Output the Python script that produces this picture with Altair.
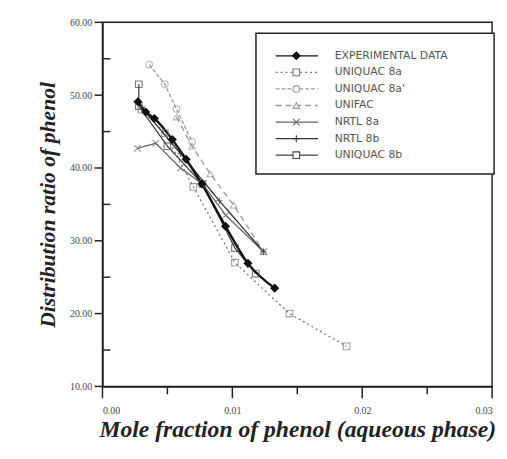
import altair as alt
import pandas as pd

series_names = ["EXPERIMENTAL DATA", "UNIQUAC 8a", "UNIQUAC 8a'", "UNIFAC", "NRTL 8a", "NRTL 8b", "UNIQUAC 8b"]

exp_x = [0.00273, 0.00333, 0.0040, 0.00538, 0.00644, 0.00765, 0.00947, 0.0112, 0.01326]
exp_y = [49.1, 47.7, 46.8, 43.9, 41.2, 37.8, 32.0, 26.9, 23.5]

uq8a_x = [0.0030, 0.0048, 0.0070, 0.0102, 0.0144, 0.0188]
uq8a_y = [48.0, 44.8, 37.4, 27.0, 20.0, 15.5]

uq8a2_x = [0.0036, 0.0048, 0.0057, 0.0069]
uq8a2_y = [54.2, 51.5, 48.1, 43.6]

unifac_x = [0.0057, 0.0069, 0.0083, 0.0101, 0.0124]
unifac_y = [47.0, 43.0, 39.2, 34.9, 28.5]

nrtl8a_x = [0.0027, 0.0041, 0.0060, 0.0077, 0.0095, 0.0124]
nrtl8a_y = [42.7, 43.4, 40.0, 37.8, 33.5, 28.5]

nrtl8b_x = [0.0033, 0.0060, 0.0090, 0.0124]
nrtl8b_y = [47.7, 42.0, 35.5, 28.5]

uq8b_x = [0.0028, 0.0028, 0.0050, 0.0077, 0.0102, 0.0118]
uq8b_y = [51.5, 48.5, 43.0, 37.8, 29.0, 25.5]

x_major = [0.0, 0.01, 0.02, 0.03]
x_minor = [0.005, 0.015, 0.025]
y_major = [10, 20, 30, 40, 50, 60]
y_minor = [15, 25, 35, 45, 55]

all_x = [exp_x, uq8a_x, uq8a2_x, unifac_x, nrtl8a_x, nrtl8b_x, uq8b_x]
all_y = [exp_y, uq8a_y, uq8a2_y, unifac_y, nrtl8a_y, nrtl8b_y, uq8b_y]

rows = []
for name, xs_, ys_ in zip(series_names, all_x, all_y):
    for i, (xv, yv) in enumerate(zip(xs_, ys_)):
        rows.append({"series": name, "x": xv, "y": yv, "order": i})
df = pd.DataFrame(rows)

leg_df = pd.DataFrame({"series": series_names, "idx": list(range(len(series_names)))})

tick_rows = ([{"kind": "xmaj", "v": v} for v in x_major] + [{"kind": "xmin", "v": v} for v in x_minor]
             + [{"kind": "ymaj", "v": v} for v in y_major] + [{"kind": "ymin", "v": v} for v in y_minor])
ticks_df = pd.DataFrame(tick_rows)

shapes = ["diamond", "square", "circle", "triangle-up",
          "M-1,-1L1,1M-1,1L1,-1", "M-1,0L1,0M0,-1L0,1", "square"]
colors = ["#111111", "#777777", "#9a9a9a", "#999999", "#666666", "#333333", "#444444"]
dashes = [[1, 0], [2, 3], [4, 2], [6, 4], [1, 0], [1, 0], [1, 0]]

color_s = alt.Scale(domain=series_names, range=colors)
shape_s = alt.Scale(domain=series_names, range=shapes)
dash_s = alt.Scale(domain=series_names, range=dashes)

xs = alt.Scale(domain=[0, 0.03], nice=False)
ys = alt.Scale(domain=[10, 60], nice=False)

x_axis = alt.Axis(
    title="Mole fraction of phenol (aqueous phase)",
    values=x_major, format=".2f", ticks=False,
    labelPadding=20, labelFont="Liberation Serif", labelFontSize=10, labelColor="#444",
    titleFont="Liberation Serif", titleFontSize=24, titleFontStyle="italic", titleFontWeight="bold",
    titleColor="#222", titlePadding=2, domain=True, domainColor="#222", domainWidth=1.5, grid=False,
)
y_axis = alt.Axis(
    title="Distribution ratio of phenol",
    values=y_major, format=".2f", ticks=False,
    labelPadding=11, labelFont="Liberation Serif", labelFontSize=10, labelColor="#444",
    titleFont="Liberation Serif", titleFontSize=22, titleFontStyle="italic", titleFontWeight="bold",
    titleColor="#222", titlePadding=10, domain=True, domainColor="#222", domainWidth=1.5, grid=False,
)

base = alt.Chart(df)
X = alt.X("x:Q", scale=xs, axis=x_axis)
Y = alt.Y("y:Q", scale=ys, axis=y_axis)

lines_other = base.transform_filter(alt.datum.series != "EXPERIMENTAL DATA").mark_line(strokeWidth=1.3).encode(
    x=X, y=Y, order="order:Q",
    color=alt.Color("series:N", scale=color_s, legend=None),
    strokeDash=alt.StrokeDash("series:N", scale=dash_s, legend=None),
)
line_exp = base.transform_filter(alt.datum.series == "EXPERIMENTAL DATA").mark_line(
    strokeWidth=2.4, interpolate="monotone", color="#111").encode(x=X, y=Y, order="order:Q")
pts_other = base.transform_filter(alt.datum.series != "EXPERIMENTAL DATA").mark_point(
    filled=False, size=45, strokeWidth=1.1).encode(
    x=X, y=Y,
    color=alt.Color("series:N", scale=color_s, legend=None),
    shape=alt.Shape("series:N", scale=shape_s, legend=None),
)
pts_exp = base.transform_filter(alt.datum.series == "EXPERIMENTAL DATA").mark_point(
    filled=True, size=85, color="#111", shape="diamond", opacity=1).encode(x=X, y=Y)

main = alt.layer(lines_other, line_exp, pts_other, pts_exp)

tb = alt.Chart(ticks_df)
xmaj_t = tb.transform_filter(alt.datum.kind == "xmaj").mark_rule(color="#222", strokeWidth=1.5).encode(
    x=alt.X("v:Q", scale=xs, axis=None), y=alt.value(370), y2=alt.value(382))
xmin_t = tb.transform_filter(alt.datum.kind == "xmin").mark_rule(color="#222", strokeWidth=1.5).encode(
    x=alt.X("v:Q", scale=xs, axis=None), y=alt.value(370), y2=alt.value(378))
ymaj_t = tb.transform_filter(alt.datum.kind == "ymaj").mark_rule(color="#222", strokeWidth=1.5).encode(
    y=alt.Y("v:Q", scale=ys, axis=None), x=alt.value(-8), x2=alt.value(0))
ymin_t = tb.transform_filter(alt.datum.kind == "ymin").mark_rule(color="#222", strokeWidth=1.5).encode(
    y=alt.Y("v:Q", scale=ys, axis=None), x=alt.value(0), x2=alt.value(8))
ticks = alt.layer(xmaj_t, xmin_t, ymaj_t, ymin_t)

frame = alt.Chart(pd.DataFrame({"a": [0]})).mark_rect(
    fill="white", fillOpacity=0, stroke="#222", strokeWidth=1.5).encode(
    x=alt.value(0), x2=alt.value(396), y=alt.value(0), y2=alt.value(370))
leg_box = alt.Chart(pd.DataFrame({"a": [0]})).mark_rect(
    fill="white", stroke="#222", strokeWidth=1.5).encode(
    x=alt.value(156), x2=alt.value(398), y=alt.value(11), y2=alt.value(154))

LY = alt.Y("idx:Q", scale=alt.Scale(domain=[0, 6], range=[34, 135]), axis=None)
leg_base = alt.Chart(leg_df)
leg_lines = leg_base.mark_rule(strokeWidth=1.3).encode(
    x=alt.value(176), x2=alt.value(219), y=LY,
    color=alt.Color("series:N", scale=color_s, legend=None),
    strokeDash=alt.StrokeDash("series:N", scale=dash_s, legend=None),
)
leg_pts = leg_base.transform_filter(alt.datum.series != "EXPERIMENTAL DATA").mark_point(
    filled=False, size=45, strokeWidth=1.1, fill="white", fillOpacity=1).encode(
    x=alt.value(197), y=LY,
    color=alt.Color("series:N", scale=color_s, legend=None),
    shape=alt.Shape("series:N", scale=shape_s, legend=None),
)
leg_exp = leg_base.transform_filter(alt.datum.series == "EXPERIMENTAL DATA").mark_point(
    filled=True, size=85, color="#111", shape="diamond", opacity=1).encode(x=alt.value(197), y=LY)
leg_text = leg_base.mark_text(align="left", baseline="middle", font="DejaVu Sans",
                              fontSize=11, color="#555").encode(
    x=alt.value(236), y=LY, text="series:N")

legend = alt.layer(frame, leg_box, leg_lines, leg_pts, leg_exp, leg_text)

chart = alt.layer(main, ticks, legend).resolve_scale(y="independent", x="independent").properties(
    width=396, height=370,
    autosize=alt.AutoSizeParams(type="none"),
    padding={"left": 96, "top": 11, "right": 7, "bottom": 60},
).configure_view(stroke="#222", strokeWidth=1.5).configure(background="white")

chart.save("out.html", embed_options={"renderer": "svg", "actions": False})
